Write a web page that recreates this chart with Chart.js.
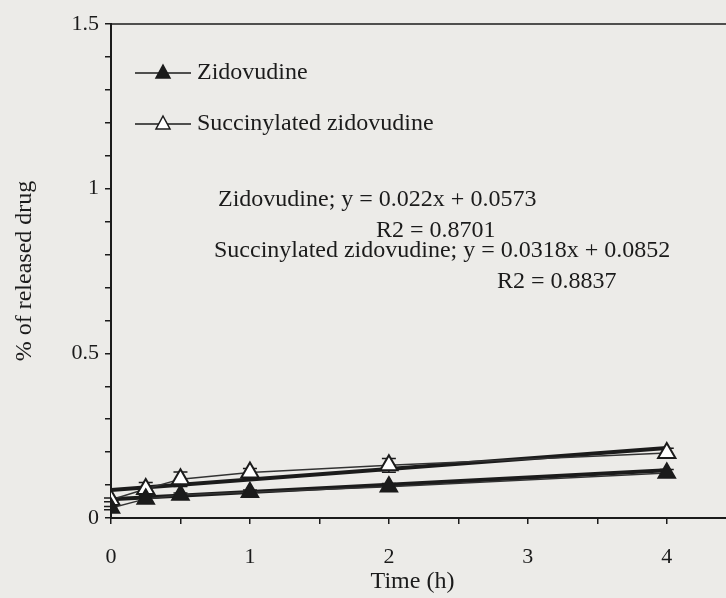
<!DOCTYPE html>
<html>
<head>
<meta charset="utf-8">
<script src="https://cdn.jsdelivr.net/npm/chart.js@4.4.1/dist/chart.umd.min.js"></script>
<style>
  html, body { margin: 0; padding: 0; background: #ecebe8; }
  canvas { display: block; }
</style>
</head>
<body>
<canvas id="releaseChart" width="726" height="598"></canvas>
<script>
  const times = [0, 0.25, 0.5, 1, 2, 4];
  const zidovudine = [0.03, 0.058, 0.07, 0.078, 0.095, 0.137];
  const zidovudineErr = [0.005, 0.006, 0.006, 0.007, 0.01, 0.01];
  const succinylated = [0.055, 0.088, 0.118, 0.138, 0.16, 0.197];
  const succinylatedErr = [0.006, 0.02, 0.022, 0.012, 0.021, 0.015];
  // slope, intercept and R2 of the linear fits
  const zidovudineFit = [0.022, 0.0573, '0.8701'];
  const succinylatedFit = [0.0318, 0.0852, '0.8837'];
  const seriesNames = ['Zidovudine', 'Succinylated zidovudine'];
  const xTicks = [0, 0.5, 1, 1.5, 2, 2.5, 3, 3.5, 4];
  const yTicks = [0, 0.1, 0.2, 0.3, 0.4, 0.5, 0.6, 0.7, 0.8, 0.9, 1, 1.1, 1.2, 1.3, 1.4, 1.5];

  const serif = '"Liberation Serif", "DejaVu Serif", serif';
  const ink = '#1b1b1b';

  function points(ys) {
    return times.map((t, i) => ({ x: t, y: ys[i] }));
  }
  function fitLine(fit) {
    const t0 = times[0], t1 = times[times.length - 1];
    return [{ x: t0, y: fit[0] * t0 + fit[1] }, { x: t1, y: fit[0] * t1 + fit[1] }];
  }
  function isHalf(v) {
    return Math.abs(v * 2 - Math.round(v * 2)) < 1e-6;
  }

  const extras = {
    id: 'extras',
    beforeDatasetsDraw(chart) {
      const ctx = chart.ctx, xs = chart.scales.x, ys = chart.scales.y;
      const errs = [zidovudineErr, succinylatedErr];
      ctx.save();
      ctx.strokeStyle = ink;
      ctx.lineWidth = 1.5;
      [zidovudine, succinylated].forEach((vals, k) => {
        vals.forEach((v, i) => {
          const px = xs.getPixelForValue(times[i]);
          const top = ys.getPixelForValue(v + errs[k][i]);
          const bot = ys.getPixelForValue(v - errs[k][i]);
          ctx.beginPath();
          ctx.moveTo(px, top); ctx.lineTo(px, bot);
          ctx.moveTo(px - 7, top); ctx.lineTo(px + 7, top);
          ctx.moveTo(px - 7, bot); ctx.lineTo(px + 7, bot);
          ctx.stroke();
        });
      });
      ctx.restore();
    },
    afterDraw(chart) {
      const ctx = chart.ctx, area = chart.chartArea;
      ctx.save();
      // frame top edge, and the x axis line run out to the canvas edge
      ctx.strokeStyle = ink;
      ctx.lineWidth = 1.5;
      ctx.beginPath();
      ctx.moveTo(area.left, area.top);
      ctx.lineTo(chart.width, area.top);
      ctx.stroke();
      ctx.lineWidth = 2;
      ctx.beginPath();
      ctx.moveTo(area.left, area.bottom);
      ctx.lineTo(chart.width, area.bottom);
      ctx.stroke();

      // legend
      ctx.font = '24px ' + serif;
      ctx.fillStyle = ink;
      ctx.textBaseline = 'middle';
      const rows = [73, 124];
      chart.data.datasets.slice(0, 2).forEach((ds, k) => {
        const y = rows[k];
        ctx.lineWidth = 1.5;
        ctx.strokeStyle = ink;
        ctx.beginPath();
        ctx.moveTo(135, y); ctx.lineTo(191, y);
        ctx.stroke();
        ctx.beginPath();
        ctx.moveTo(163, y - 8); ctx.lineTo(170, y + 5); ctx.lineTo(156, y + 5);
        ctx.closePath();
        ctx.fillStyle = ds.pointBackgroundColor;
        ctx.fill();
        ctx.stroke();
        ctx.fillStyle = ink;
        ctx.textAlign = 'left';
        ctx.fillText(ds.label, 197, y);
      });

      // fit equations
      ctx.textAlign = 'left';
      ctx.fillText(seriesNames[0] + '; y = ' + zidovudineFit[0] + 'x + ' + zidovudineFit[1], 218, 200);
      ctx.fillText('R2 = ' + zidovudineFit[2], 376, 231);
      ctx.fillText(seriesNames[1] + '; y = ' + succinylatedFit[0] + 'x + ' + succinylatedFit[1], 214, 251);
      ctx.fillText('R2 = ' + succinylatedFit[2], 497, 282);
      ctx.restore();
    }
  };

  const config = {
    type: 'scatter',
    data: {
      datasets: [
        {
          label: seriesNames[0],
          data: points(zidovudine),
          showLine: true,
          borderColor: '#333',
          borderWidth: 1.5,
          pointStyle: 'triangle',
          pointRadius: 10,
          pointBackgroundColor: ink,
          pointBorderColor: ink,
          pointBorderWidth: 1.5
        },
        {
          label: seriesNames[1],
          data: points(succinylated),
          showLine: true,
          borderColor: '#333',
          borderWidth: 1.5,
          pointStyle: 'triangle',
          pointRadius: 10,
          pointBackgroundColor: '#ffffff',
          pointBorderColor: ink,
          pointBorderWidth: 2
        },
        {
          label: 'Zidovudine fit',
          data: fitLine(zidovudineFit),
          showLine: true,
          borderColor: ink,
          borderWidth: 4,
          pointRadius: 0
        },
        {
          label: 'Succinylated zidovudine fit',
          data: fitLine(succinylatedFit),
          showLine: true,
          borderColor: ink,
          borderWidth: 4,
          pointRadius: 0
        }
      ]
    },
    options: {
      responsive: false,
      animation: false,
      layout: { padding: { top: 24, right: 0, left: 0, bottom: 0 } },
      plugins: {
        legend: { display: false },
        tooltip: { enabled: false }
      },
      scales: {
        x: {
          type: 'linear',
          min: 0,
          max: 4.34,
          afterBuildTicks: s => { s.ticks = xTicks.map(v => ({ value: v })); },
          afterFit: s => { s.height = 80; },
          ticks: {
            autoSkip: false,
            maxRotation: 0,
            padding: 20,
            color: ink,
            font: { family: serif, size: 22 },
            callback: v => Number.isInteger(v) ? v : ''
          },
          grid: { drawOnChartArea: false, drawTicks: true, tickLength: 6, color: ink, lineWidth: 1.5 },
          border: { display: false },
          title: {
            display: true,
            text: 'Time (h)',
            color: ink,
            font: { family: serif, size: 24 },
            padding: { top: 0, bottom: 2 }
          }
        },
        y: {
          min: 0,
          max: 1.5,
          afterBuildTicks: s => { s.ticks = yTicks.map(v => ({ value: v })); },
          afterFit: s => { s.width = 111; },
          ticks: {
            autoSkip: false,
            padding: 6,
            color: ink,
            font: { family: serif, size: 22 },
            callback: v => isHalf(v) ? String(v) : ''
          },
          grid: { drawOnChartArea: false, drawTicks: true, tickLength: 6, color: ink, lineWidth: 1.5 },
          border: { display: true, color: ink, width: 2 },
          title: {
            display: true,
            text: '% of released drug',
            color: ink,
            font: { family: serif, size: 24 },
            padding: { top: 10, bottom: 0 }
          }
        }
      }
    },
    plugins: [extras]
  };

  window.onload = function() {
    const ctx = document.getElementById('releaseChart').getContext('2d');
    new Chart(ctx, config);
  };
</script>
</body>
</html>
